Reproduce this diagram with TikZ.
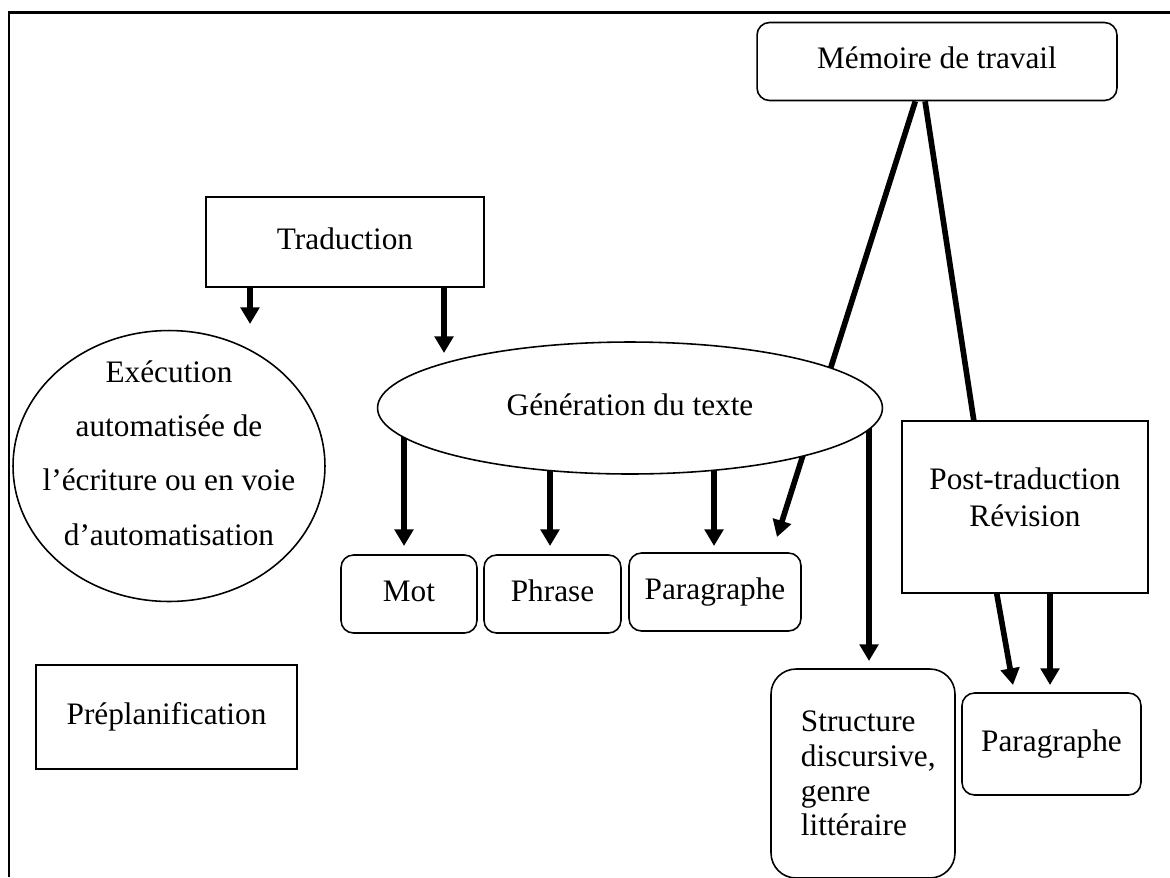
\documentclass[tikz,border=0pt]{standalone}
\usepackage{fontspec}
\setmainfont{Liberation Serif}
\usepackage{tikz}
\usetikzlibrary{shapes.geometric,arrows.meta,positioning,backgrounds,calc}

\begin{document}
\begin{tikzpicture}[
    x=0.02cm, y=-0.02cm,
    font=\fontsize{17.8}{21}\selectfont,
    box/.style={rectangle, draw, line width=0.9pt, fill=white, inner sep=0pt, align=center},
    rbox/.style={box, rounded corners=0.25cm},
    oneline/.style={text height=12pt, text depth=4pt},
    oval/.style={ellipse, draw, line width=0.9pt, fill=white, inner sep=-1cm, align=center},
    bigarrow/.style={line width=3.2pt, -{Triangle[length=9.5pt,width=10.5pt]}},
    biglink/.style={line width=3.2pt},
]
\useasboundingbox (0,0) rectangle (1170,877);

% Frame
\draw[line width=1.7pt] (9,877) -- (9,12) -- (1170,12);

% Top boxes
\node[rbox, oneline, minimum width=7.2cm, minimum height=1.56cm] (memoire) at (937,61.5) {Mémoire de travail};
\node[box, oneline, minimum width=5.56cm, minimum height=1.8cm] (traduction) at (345,242) {Traduction};

% Ellipses
\node[oval, minimum width=6.24cm, minimum height=5.42cm] (execution) at (169,466) {};
\node[align=center, font=\fontsize{17.8}{31}\selectfont] (exectext) at (169,453)
    {Exécution\\automatisée de\\l’écriture ou en voie\\d’automatisation};
\node[oval, oneline, minimum width=10.1cm, minimum height=2.64cm] (generation) at (630,408) {Génération du texte};

% Text units
\node[rbox, oneline, minimum width=2.72cm, minimum height=1.56cm] (mot) at (409,594) {Mot};
\node[rbox, oneline, minimum width=2.74cm, minimum height=1.56cm] (phrase) at (552.5,594) {Phrase};
\node[rbox, oneline, minimum width=3.44cm, minimum height=1.56cm] (paragraphe) at (715,592) {Paragraphe};
\node[rbox, rounded corners=0.5cm, minimum width=3.68cm, minimum height=4.18cm, align=left,
    font=\fontsize{17.8}{19.8}\selectfont] (structure) at (863,773.5) {\hspace*{6pt}Structure\\\hspace*{6pt}discursive,\\\hspace*{6pt}genre\\\hspace*{6pt}littéraire};

% Revision
\node[box, minimum width=4.92cm, minimum height=3.44cm] (post) at (1025,507) {};
\node[align=center] (posttext) at (1025,497) {Post-traduction\\Révision};
\node[rbox, oneline, minimum width=3.58cm, minimum height=2.04cm] (paragrapheR) at (1051.5,744) {Paragraphe};

% Preplanning
\node[box, oneline, minimum width=5.22cm, minimum height=2.08cm] (preplan) at (166.5,717) {Préplanification};

% Arrow tips
\coordinate (tradexec) at (250,324);
\coordinate (tradgen) at (444,353);
\coordinate (genmot) at (404,546);
\coordinate (genphrase) at (550,546);
\coordinate (genpara) at (714,546);
\coordinate (genstruct) at (869,661);
\coordinate (mempara) at (777,537);
\coordinate (postparaA) at (1013,685);
\coordinate (postparaB) at (1050,685);

% Connectors
\begin{scope}[on background layer]
\draw[bigarrow] (traduction.south -| tradexec) -- (tradexec);
\draw[bigarrow] (traduction.south -| tradgen) -- (tradgen);
\draw[bigarrow] (generation.center -| genmot) -- (genmot);
\draw[bigarrow] (generation.center -| genphrase) -- (genphrase);
\draw[bigarrow] (generation.center -| genpara) -- (genpara);
\draw[bigarrow] (generation.center -| genstruct) -- (genstruct);
\draw[bigarrow] ($(memoire.south west)!0.44!(memoire.south east)$) -- (mempara);
\draw[biglink] ($(memoire.south west)!0.467!(memoire.south east)$) -- ($(post.north west)!0.293!(post.north east)$);
\draw[bigarrow] ($(post.south west)!0.386!(post.south east)$) -- (postparaA);
\draw[bigarrow] (post.south -| postparaB) -- (postparaB);
\end{scope}

\end{tikzpicture}
\end{document}
